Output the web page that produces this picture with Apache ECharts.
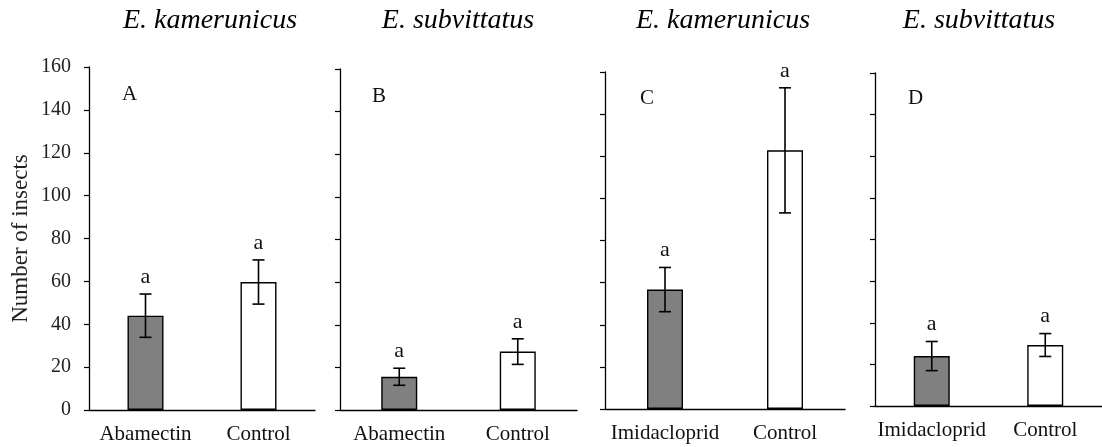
<!DOCTYPE html>
<html><head><meta charset="utf-8">
<script src="https://cdn.jsdelivr.net/npm/echarts@6/dist/echarts.min.js"></script>
<style>html,body{margin:0;padding:0;background:#fff}#c{width:1102px;height:447px}</style>
</head><body><div id="c"></div>
<script>
const panelLetters = ['A', 'B', 'C', 'D'];
const speciesTitles = ['E. kamerunicus', 'E. subvittatus', 'E. kamerunicus', 'E. subvittatus'];
const categoriesA = ['Abamectin', 'Control'];
const categoriesB = ['Abamectin', 'Control'];
const categoriesC = ['Imidacloprid', 'Control'];
const categoriesD = ['Imidacloprid', 'Control'];
const meansA = [44, 59.7];
const errorsA = [10.1, 10.3];
const meansB = [15.6, 27.4];
const errorsB = [4, 6];
const meansC = [56.7, 122.8];
const errorsC = [10.5, 29.7];
const meansD = [24, 29.3];
const errorsD = [7, 5.5];
const sigLetters = ['a', 'a'];
const yTicks = [0, 20, 40, 60, 80, 100, 120, 140, 160];
const yAxisName = 'Number of insects';

const FONT = "'Liberation Serif', 'Times New Roman', serif";
const categories = [categoriesA, categoriesB, categoriesC, categoriesD];
const means = [meansA, meansB, meansC, meansD];
const errors = [errorsA, errorsB, errorsC, errorsD];
const barColors = ['#808080', '#ffffff'];

const gridBoxes = [
  {left: 89, top: 67, width: 226, height: 343},
  {left: 340, top: 69, width: 237, height: 341},
  {left: 605, top: 72, width: 240, height: 337},
  {left: 875, top: 73, width: 240, height: 333}
];
const letterPos = [[122, 84], [372, 86], [640, 88], [908, 88]];
const titlePos = [210, 458, 723, 979];

const grids = [], xAxes = [], yAxes = [], series = [], graphics = [];
for (let i = 0; i < 4; i++) {
  grids.push(Object.assign({containLabel: false}, gridBoxes[i]));
  xAxes.push({
    type: 'category', gridIndex: i, data: categories[i],
    axisLine: {lineStyle: {color: '#000', width: 1.3}},
    axisTick: {show: false},
    axisLabel: {interval: 0, hideOverlap: false, fontFamily: FONT, fontSize: 21, color: '#111', margin: 14}
  });
  yAxes.push({
    type: 'value', gridIndex: i, min: 0, max: 160, interval: 20,
    splitLine: {show: false},
    axisLine: {show: true, lineStyle: {color: '#000', width: 1.3}},
    axisTick: {show: true, length: 5, lineStyle: {color: '#000', width: 1.2}},
    axisLabel: {show: i === 0, fontFamily: FONT, fontSize: 20, color: '#222', margin: 18,
      formatter: v => yTicks.includes(v) ? String(v) : ''},
    name: i === 0 ? yAxisName : '',
    nameLocation: 'middle', nameGap: 57, nameRotate: 90,
    nameTextStyle: {fontFamily: FONT, fontSize: 23, color: '#222'}
  });
  series.push({
    type: 'bar', xAxisIndex: i, yAxisIndex: i, barWidth: 36, z: 2,
    data: means[i].map((m, k) => ({value: m, itemStyle: {color: barColors[k], borderColor: '#000', borderWidth: 1.4}})),
    silent: true, animation: false
  });
  series.push({
    type: 'custom', xAxisIndex: i, yAxisIndex: i, animation: false, silent: true, z: 5,
    data: means[i].map((m, k) => [k, m - errors[i][k], m + errors[i][k], sigLetters[k]]),
    renderItem: function (params, api) {
      const x = api.value(0);
      const lo = api.coord([x, api.value(1)]);
      const hi = api.coord([x, api.value(2)]);
      const cap = 6;
      const st = {stroke: '#000', lineWidth: 1.6};
      return {type: 'group', children: [
        {type: 'line', shape: {x1: lo[0], y1: lo[1], x2: hi[0], y2: hi[1]}, style: st},
        {type: 'line', shape: {x1: hi[0] - cap, y1: hi[1], x2: hi[0] + cap, y2: hi[1]}, style: st},
        {type: 'line', shape: {x1: lo[0] - cap, y1: lo[1], x2: lo[0] + cap, y2: lo[1]}, style: st},
        {type: 'text', x: hi[0], y: hi[1] - 6, style: {text: api.value(3), fontFamily: FONT, fontSize: 22,
          fill: '#111', textAlign: 'center', textVerticalAlign: 'bottom'}}
      ]};
    }
  });
  graphics.push({type: 'text', left: letterPos[i][0], top: letterPos[i][1],
    style: {text: panelLetters[i], fontFamily: FONT, fontSize: 21, fill: '#111'}});
  graphics.push({type: 'text', x: titlePos[i], y: 21,
    style: {text: speciesTitles[i], fontFamily: FONT, fontSize: 28, fontStyle: 'italic', fill: '#000',
      textAlign: 'center', textVerticalAlign: 'middle'}});
}

const chart = echarts.init(document.getElementById('c'), null, {renderer: 'canvas'});
chart.setOption({
  backgroundColor: '#fff', animation: false,
  grid: grids, xAxis: xAxes, yAxis: yAxes, series: series, graphic: graphics
});
</script></body></html>
